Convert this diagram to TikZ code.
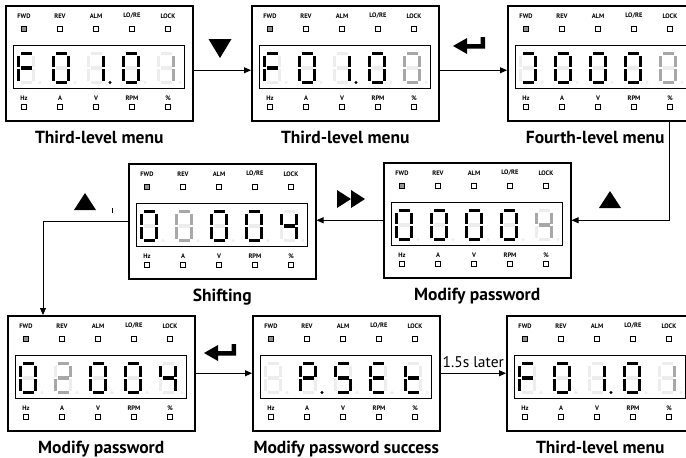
\documentclass[tikz,border=0pt]{standalone}
\usepackage{fontspec}
\setmainfont{PT Sans}
\usetikzlibrary{arrows.meta, positioning, calc}

\definecolor{segoff}{gray}{0.93}
\definecolor{segdim}{gray}{0.66}
\definecolor{ledgray}{gray}{0.58}

\makeatletter
% one seven-segment digit: #1 lit segments, #2 blinking segments (p = point)
\newcommand{\segdigit}[2]{%
  \foreach \s/\xa/\ya/\xb/\yb in {a/3.5/0/14.5/3.3,b/14.7/3.5/18/15,c/14.7/17/18/28.5,d/3.5/28.7/14.5/32,e/0/17/3.3/28.5,f/0/3.5/3.3/15,g/3.5/14.4/14.5/17.6}{%
    \def\segcol{segoff}%
    \edef\segtmp{\noexpand\in@{\s}{#1}}\segtmp\ifin@\def\segcol{black}\fi
    \edef\segtmp{\noexpand\in@{\s}{#2}}\segtmp\ifin@\def\segcol{segdim}\fi
    \fill[\segcol] (\xa,\ya) rectangle (\xb,\yb);
  }%
  \def\segcol{segoff}%
  \edef\segtmp{\noexpand\in@{p}{#1}}\segtmp\ifin@\def\segcol{black}\fi
  \fill[\segcol] (23,30.5) circle (1.6);
}
\makeatother

% keypad panel: [#1 caption shift] #2 name, #3 top left corner, #4 digits (lit/blinking), #5 caption
\newcommand{\ledpanel}[5][0]{%
  \node[panelbox] (#2) at (#3) {};
  \begin{scope}[shift={(#2.north west)}]
    \draw[dispbox] (8,40) rectangle (179,83);
    \foreach \t [count=\i from 0] in {FWD,REV,ALM,LO/RE,LOCK}
      \node[ledtext] at ({19+36*\i},11) {\t};
    \foreach \t [count=\i from 0] in {Hz,A,V,RPM,\%}
      \node[ledtext] at ({19+36*\i},93) {\t};
    \foreach \i in {0,...,4} {
      \node[led] at ({19+36*\i},24) {};
      \node[led] at ({19+36*\i},102) {};
    }
    \node[led, fill=ledgray] at (19,24) {};
    \foreach \on/\dim [count=\k from 0] in {#4} {
      \begin{scope}[shift={({12+35*\k},47)}]
        \segdigit{\on}{\dim}
      \end{scope}
    }
  \end{scope}
  \node[caption, anchor=base] (#2cap) at ([xshift=#1pt, yshift=-22pt]#2.south) {#5};
}

\begin{document}
\begin{tikzpicture}[x=1pt, y=-1pt,
  panelbox/.style={draw, line width=1.5pt, minimum width=187pt, minimum height=115pt, inner sep=0pt, anchor=north west},
  dispbox/.style={line width=0.9pt},
  ledtext/.style={font=\bfseries\fontsize{6.5}{7}\selectfont, inner sep=0pt},
  led/.style={draw, line width=0.7pt, fill=white, minimum size=5pt, inner sep=0pt},
  caption/.style={font=\bfseries\fontsize{17.5}{20}\selectfont, inner sep=0pt},
  conn/.style={-{Triangle[length=7pt, width=6pt]}, line width=0.8pt},
  downkey/.pic={\fill (-11.5,-9.5) -- (11.5,-9.5) -- (0,9.5) -- cycle;},
  upkey/.pic={\fill (-11,8.5) -- (11,8.5) -- (0,-8.5) -- cycle;},
  shiftkey/.pic={\fill (-14,-9) -- (0,0) -- (-14,9) -- cycle; \fill (0,-9) -- (14,0) -- (0,9) -- cycle;},
  enterkey/.pic={\fill (-16,0.5) -- (-2,-7.5) -- (-2,-1.5) -- (11.5,-1.5) -- (11.5,-8.5) -- (16,-8.5) -- (16,3) -- (-2,3) -- (-2,8.5) -- cycle;}
]
\clip (0,0) rectangle (686,458);

% --- Row 1 ---
\ledpanel{p1}{5,5}{afeg/-,abcdef/-,bcp/-,abcdef/-,-/bc}{Third-level menu}
\ledpanel{p2}{251,5}{afeg/-,abcdef/-,bcp/-,abcdef/-,-/abcdef}{Third-level menu}
\ledpanel[-6]{p3}{507,5}{abcd/-,abcdef/-,abcdef/-,abcdef/-,-/abcdef}{Fourth-level menu}

% --- Row 2 ---
\ledpanel{p4}{128,163}{abcdef/-,-/abcdef,abcdef/-,abcdef/-,bcfg/-}{Shifting}
\ledpanel{p5}{383,162}{abcdef/-,abcdef/-,abcdef/-,abcdef/-,-/bcfg}{Modify password}

% --- Row 3 ---
\ledpanel{p6}{7,315}{abcdef/-,-/abdeg,abcdef/-,abcdef/-,bcfg/-}{Modify password}
\ledpanel{p7}{252,315}{-/-,abefgp/-,acdfg/-,adefg/-,defg/-}{Modify password success}
\ledpanel{p8}{506,315}{afeg/-,abcdef/-,bcp/-,abcdef/-,-/bc}{Third-level menu}

% --- Connectors ---
\coordinate (turn1) at (669,0);
\coordinate (turn2) at (43,0);
\draw[conn] ([yshift=-7pt]p1.east) -- ([yshift=-7pt]p2.west);
\draw[conn] ([yshift=-7pt]p2.east) -- ([yshift=-7pt]p3.west);
\draw[conn] (p3.south -| turn1) |- (p5.east);
\draw[conn] (p5.west) -- (p5.west -| p4.east);
\draw[conn] (p4.west) -| (p6.north -| turn2);
\draw[conn] (p6) -- (p7);
\draw[conn] (p7) -- (p8) node[midway, above=5pt, inner sep=0pt, font=\fontsize{15.5}{18}\selectfont] {1.5s later};

% --- Keys ---
\pic at (220,48.5) {downkey};
\pic at (469,45.5) {enterkey};
\pic at (610,199.5) {upkey};
\pic at (351,199) {shiftkey};
\pic at (85,201.5) {upkey};
\pic at (220,352.5) {enterkey};
\draw[line width=0.6pt] (112,208) -- (112,212.5);

\end{tikzpicture}
\end{document}
